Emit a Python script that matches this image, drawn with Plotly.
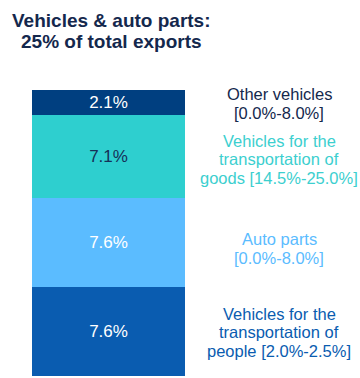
import plotly.graph_objects as go

# Export shares (% of total exports), stacked bottom to top
segments = [
    "Vehicles for the transportation of people",
    "Auto parts",
    "Vehicles for the transportation of goods",
    "Other vehicles",
]
shares = [7.6, 7.6, 7.1, 2.1]
ranges = ["[2.0%-2.5%]", "[0.0%-8.0%]", "[14.5%-25.0%]", "[0.0%-8.0%]"]
label_lines = [
    ["Vehicles for the", "transportation of", "people [2.0%-2.5%]"],
    ["Auto parts", "[0.0%-8.0%]"],
    ["Vehicles for the", "transportation of", "goods [14.5%-25.0%]"],
    ["Other vehicles", "[0.0%-8.0%]"],
]
title_lines = ["Vehicles & auto parts:", "25% of total exports"]

bar_colors = ["#0a5cb0", "#5bbcff", "#2ecfcf", "#003f80"]
value_colors = ["#ffffff", "#ffffff", "#163058", "#ffffff"]
label_colors = ["#0a5cb0", "#5bbcff", "#3ccfcf", "#14284d"]
label_nudge = [1, 6, 3, 1]  # px downward shift of each label block
navy = "#14284d"

W, H = 360, 378
M_L, M_R, M_T, M_B = 32, 175, 90, 0
FONT = "Liberation Sans, Arial, sans-serif"

fig = go.Figure()
for name, val, col, tcol in zip(segments, shares, bar_colors, value_colors):
    fig.add_trace(go.Bar(
        x=["Vehicles & auto parts"], y=[val], name=name,
        marker=dict(color=col, line=dict(width=0)),
        text=[f"{val:.1f}%"], textposition="inside",
        insidetextanchor="middle", textangle=0,
        textfont=dict(color=tcol, size=17, family=FONT),
        hoverinfo="skip",
    ))

total = sum(shares)
plot_h = H - M_T - M_B
y_lo = -0.17
y_hi = total
scale = plot_h / (y_hi - y_lo)


def py_to_paper(py):
    return (H - M_B - py) / plot_h


def val_to_py(v):
    return M_T + (y_hi - v) * scale


annotations = []
# category labels on the right, centred on each segment
line_step = 18.5
base = 0.0
label_x = (279 - M_L) / (W - M_L - M_R)
for lines, val, col, nudge in zip(label_lines, shares, label_colors, label_nudge):
    centre_py = val_to_py(base + val / 2) + nudge
    n = len(lines)
    for i, line in enumerate(lines):
        py = centre_py + (i - (n - 1) / 2) * line_step
        annotations.append(dict(
            text=line, x=label_x, y=py_to_paper(py), xref="paper", yref="paper",
            xanchor="center", yanchor="middle", showarrow=False,
            font=dict(size=16.5, color=col, family=FONT),
        ))
    base += val

# title, two centred bold lines
title_x = (111 - M_L) / (W - M_L - M_R)
for i, line in enumerate(title_lines):
    annotations.append(dict(
        text=f"<b>{line}</b>", x=title_x, y=py_to_paper(20 + i * 22),
        xref="paper", yref="paper", xanchor="center", yanchor="middle",
        showarrow=False, font=dict(size=19, color=navy, family=FONT),
    ))

fig.update_layout(
    width=W, height=H,
    margin=dict(l=M_L, r=M_R, t=M_T, b=M_B),
    barmode="stack", bargap=0,
    showlegend=False,
    plot_bgcolor="white", paper_bgcolor="white",
    xaxis=dict(visible=False),
    yaxis=dict(visible=False, range=[y_lo, y_hi]),
    annotations=annotations,
    uniformtext=dict(minsize=10, mode="show"),
)

fig.write_html("out.html")
